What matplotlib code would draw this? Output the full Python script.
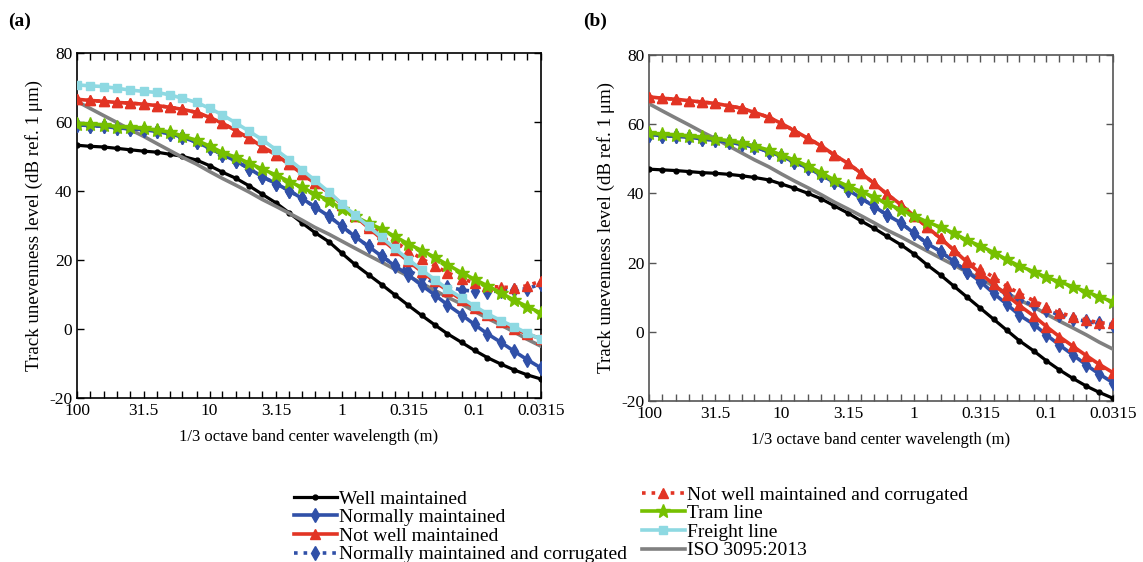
import matplotlib
matplotlib.use('Agg')
import matplotlib.pyplot as plt
from matplotlib.ticker import FixedLocator, FixedFormatter, NullFormatter

# 1/3 octave band centre wavelengths (m)
wavelength = [100, 80, 63, 50, 40, 31.5, 25, 20, 16, 12.5, 10, 8, 6.3, 5, 4, 3.15,
              2.5, 2, 1.6, 1.25, 1, 0.8, 0.63, 0.5, 0.4, 0.315, 0.25, 0.2, 0.16,
              0.125, 0.1, 0.08, 0.063, 0.05, 0.04, 0.0315]
major_wl = [100, 31.5, 10, 3.15, 1, 0.315, 0.1, 0.0315]
major_lbl = ['100', '31.5', '10', '3.15', '1', '0.315', '0.1', '0.0315']

# ISO 3095:2013 limit spectrum
iso = [65.9, 63.9, 61.8, 59.8, 57.8, 55.8, 53.7, 51.7, 49.7, 47.7, 45.6, 43.6,
       41.6, 39.6, 37.5, 35.5, 33.5, 31.5, 29.4, 27.4, 25.4, 23.4, 21.3, 19.3,
       17.3, 15.3, 13.2, 11.2, 9.2, 7.2, 5.1, 3.1, 1.1, -0.9, -3.0, -5.0]

# panel (a)
a_well = [53.2, 52.9, 52.7, 52.3, 51.9, 51.5, 51.2, 50.6, 50.0, 48.9, 47.3, 45.4,
          43.6, 41.4, 39.0, 36.5, 33.6, 30.7, 27.9, 25.2, 21.9, 18.7, 15.7, 12.8,
          9.9, 6.8, 3.9, 1.2, -1.4, -3.9, -6.2, -8.3, -10.2, -11.9, -13.3, -14.5]
a_normal = [59.1, 58.9, 58.7, 58.2, 58.0, 57.7, 57.2, 56.6, 55.5, 54.1, 52.4, 50.5,
            48.6, 46.4, 44.1, 42.1, 40.0, 37.8, 35.3, 32.6, 29.7, 26.8, 23.9, 21.0,
            18.3, 15.6, 12.6, 9.9, 7.0, 4.1, 1.3, -1.4, -3.9, -6.5, -8.9, -11.3]
a_notwell = [66.5, 66.2, 65.9, 65.6, 65.4, 65.1, 64.7, 64.2, 63.6, 62.7, 61.3, 59.6,
             57.4, 55.2, 52.8, 50.4, 47.7, 44.9, 42.2, 39.5, 36.0, 32.7, 29.3, 26.0,
             22.8, 19.6, 16.6, 13.8, 11.1, 8.5, 6.1, 3.9, 1.9, 0.1, -1.5, -2.8]
a_normal_corr = [59.1, 58.9, 58.7, 58.2, 58.0, 57.7, 57.2, 56.6, 55.5, 54.1, 52.4, 50.5,
                 48.6, 46.4, 44.1, 42.1, 40.0, 37.8, 35.3, 32.6, 29.7, 26.8, 23.9, 21.0,
                 18.6, 16.9, 15.0, 13.4, 12.2, 11.3, 10.9, 10.8, 11.0, 11.2, 11.7, 13.0]
a_notwell_corr = [66.5, 66.2, 65.9, 65.6, 65.4, 65.1, 64.7, 64.2, 63.6, 62.7, 61.3, 59.6,
                  57.4, 55.2, 52.8, 50.4, 47.7, 44.9, 42.2, 39.5, 36.0, 32.7, 29.8, 27.6,
                  25.3, 22.7, 20.3, 18.3, 16.3, 14.6, 13.3, 12.4, 12.1, 12.0, 12.5, 13.9]
a_tram = [59.5, 59.3, 59.1, 58.6, 58.4, 58.1, 57.6, 57.0, 55.9, 54.6, 53.0, 51.1,
          49.7, 48.0, 46.3, 44.6, 42.7, 41.0, 39.1, 37.2, 34.6, 32.6, 30.6, 28.9,
          26.8, 24.6, 22.7, 20.8, 18.6, 16.3, 14.4, 12.5, 10.4, 8.3, 6.5, 4.6]
a_freight = [70.7, 70.4, 70.2, 69.7, 69.2, 68.8, 68.5, 67.8, 66.8, 65.6, 63.9, 62.0,
             59.6, 57.2, 54.8, 51.9, 49.0, 46.1, 43.0, 39.6, 36.2, 33.0, 29.7, 26.5,
             23.3, 20.1, 17.1, 14.3, 11.6, 9.0, 6.6, 4.4, 2.4, 0.6, -1.2, -3.0]

# panel (b)
b_well = [47.0, 46.8, 46.6, 46.3, 46.0, 45.8, 45.5, 45.1, 44.6, 43.9, 42.7, 41.5,
          40.0, 38.4, 36.4, 34.3, 32.0, 29.9, 27.6, 25.1, 22.5, 19.4, 16.4, 13.2,
          10.1, 6.8, 3.6, 0.5, -2.6, -5.5, -8.4, -11.0, -13.5, -15.7, -17.5, -19.2]
b_normal = [57.0, 56.7, 56.5, 56.2, 55.8, 55.3, 54.8, 54.2, 53.3, 52.1, 50.7, 49.1,
            47.3, 45.3, 43.2, 41.0, 38.6, 36.2, 33.8, 31.4, 28.5, 25.6, 23.2, 20.3,
            17.4, 14.5, 11.1, 8.0, 4.8, 2.2, -0.9, -3.8, -6.7, -9.6, -12.2, -14.7]
b_notwell = [67.9, 67.5, 67.2, 66.8, 66.4, 66.0, 65.3, 64.6, 63.4, 62.0, 60.2, 58.1,
             55.9, 53.7, 51.1, 48.7, 45.8, 42.9, 39.8, 36.7, 33.5, 30.3, 27.0, 23.6,
             20.2, 16.9, 13.7, 10.6, 7.6, 4.6, 1.5, -1.4, -4.2, -6.9, -9.4, -11.8]
b_normal_corr = [57.0, 56.7, 56.5, 56.2, 55.8, 55.3, 54.8, 54.2, 53.3, 52.1, 50.7, 49.1,
                 47.3, 45.3, 43.2, 41.0, 38.6, 36.2, 33.8, 31.4, 28.5, 25.6, 23.2, 20.3,
                 17.4, 15.0, 12.9, 11.0, 9.3, 7.7, 6.2, 4.9, 3.8, 3.0, 2.4, 2.1]
b_notwell_corr = [67.9, 67.5, 67.2, 66.8, 66.4, 66.0, 65.3, 64.6, 63.4, 62.0, 60.2, 58.1,
                  55.9, 53.7, 51.1, 48.7, 45.8, 42.9, 39.8, 36.7, 33.5, 30.3, 27.0, 23.6,
                  20.8, 18.2, 15.7, 13.2, 11.1, 9.0, 7.1, 5.5, 4.4, 3.4, 2.6, 2.4]
b_tram = [57.4, 57.1, 56.9, 56.6, 56.2, 55.7, 55.2, 54.6, 53.7, 52.5, 51.1, 49.6,
          47.9, 45.9, 43.9, 42.1, 40.5, 38.9, 37.1, 35.2, 33.5, 31.8, 30.2, 28.5,
          26.5, 24.8, 22.9, 20.9, 19.0, 17.4, 15.7, 14.5, 13.0, 11.6, 10.1, 8.7]

labels = {
    'well': 'Well maintained',
    'normal': 'Normally maintained',
    'notwell': 'Not well maintained',
    'normal_corr': 'Normally maintained and corrugated',
    'notwell_corr': 'Not well maintained and corrugated',
    'tram': 'Tram line',
    'freight': 'Freight line',
    'iso': 'ISO 3095:2013',
}

blue = '#3050a8'
red = '#e23424'
style = {
    'well': dict(color='black', marker='o', ms=3.5, lw=2.3, ls='-', zorder=3),
    'iso': dict(color='#808080', marker=None, lw=2.6, ls='-', zorder=4),
    'normal': dict(color=blue, marker='d', ms=7.5, lw=2.6, ls='-', zorder=5),
    'normal_corr': dict(color=blue, marker='d', ms=7.5, lw=2.6, ls=':', zorder=5),
    'notwell': dict(color=red, marker='^', ms=7.5, lw=2.6, ls='-', zorder=6),
    'notwell_corr': dict(color=red, marker='^', ms=7.5, lw=2.6, ls=':', zorder=6),
    'tram': dict(color='#76c000', marker='*', ms=10.5, lw=2.6, ls='-', zorder=7),
    'freight': dict(color='#8ed9e2', marker='s', ms=6, lw=2.6, ls='-', zorder=8),
}

plt.rcParams['font.family'] = ['Liberation Serif', 'DejaVu Serif']
plt.rcParams['axes.unicode_minus'] = False
plt.rcParams['font.size'] = 12

fig = plt.figure(figsize=(11.43, 5.62), dpi=100)
ax_a = fig.add_axes([0.0674, 0.2918, 0.4059, 0.6144])
ax_b = fig.add_axes([0.5678, 0.2865, 0.4059, 0.6157])


def draw_panel(ax, series, spine_color):
    lines = {}
    for key, vals in series.items():
        lines[key] = ax.plot(wavelength, vals, label=labels[key], **style[key])[0]
    ax.set_xscale('log')
    ax.set_xlim(100, 0.0315)
    ax.set_ylim(-20, 80)
    ax.set_yticks(range(-20, 81, 20))
    ax.xaxis.set_major_locator(FixedLocator(major_wl))
    ax.xaxis.set_major_formatter(FixedFormatter(major_lbl))
    ax.xaxis.set_minor_locator(FixedLocator(wavelength))
    ax.xaxis.set_minor_formatter(NullFormatter())
    ax.tick_params(which='both', direction='in', top=True, right=True,
                   length=5, width=1, color=spine_color, labelsize=12.5)
    for sp in ax.spines.values():
        sp.set_color(spine_color)
        sp.set_linewidth(1.2)
    ax.set_xlabel('1/3 octave band center wavelength (m)', fontsize=12, labelpad=7)
    ax.set_ylabel('Track unevenness level (dB ref. 1\u2009μm)', fontsize=13.7, labelpad=4)
    return lines


lines_a = draw_panel(ax_a, {
    'well': a_well, 'iso': iso, 'normal': a_normal, 'normal_corr': a_normal_corr,
    'notwell': a_notwell, 'notwell_corr': a_notwell_corr, 'tram': a_tram,
    'freight': a_freight}, 'black')
draw_panel(ax_b, {
    'well': b_well, 'iso': iso, 'normal': b_normal, 'normal_corr': b_normal_corr,
    'notwell': b_notwell, 'notwell_corr': b_notwell_corr, 'tram': b_tram}, '#555555')

fig.text(0.007, 0.962, '(a)', fontsize=14, fontweight='bold', va='center')
fig.text(0.510, 0.962, '(b)', fontsize=14, fontweight='bold', va='center')

left_keys = ['well', 'normal', 'notwell', 'normal_corr']
right_keys = ['notwell_corr', 'tram', 'freight', 'iso']
leg_kw = dict(frameon=False, loc='upper left', borderaxespad=0, borderpad=0,
              handlelength=2.2, handletextpad=0.12, labelspacing=0.05, fontsize=14)
leg1 = fig.legend([lines_a[k] for k in left_keys], [labels[k] for k in left_keys],
                  bbox_to_anchor=(294 / 1143, 1 - 490 / 562), **leg_kw)
leg2 = fig.legend([lines_a[k] for k in right_keys], [labels[k] for k in right_keys],
                  bbox_to_anchor=(642 / 1143, 1 - 486 / 562), **leg_kw)

fig.savefig('out.png', dpi=100)
